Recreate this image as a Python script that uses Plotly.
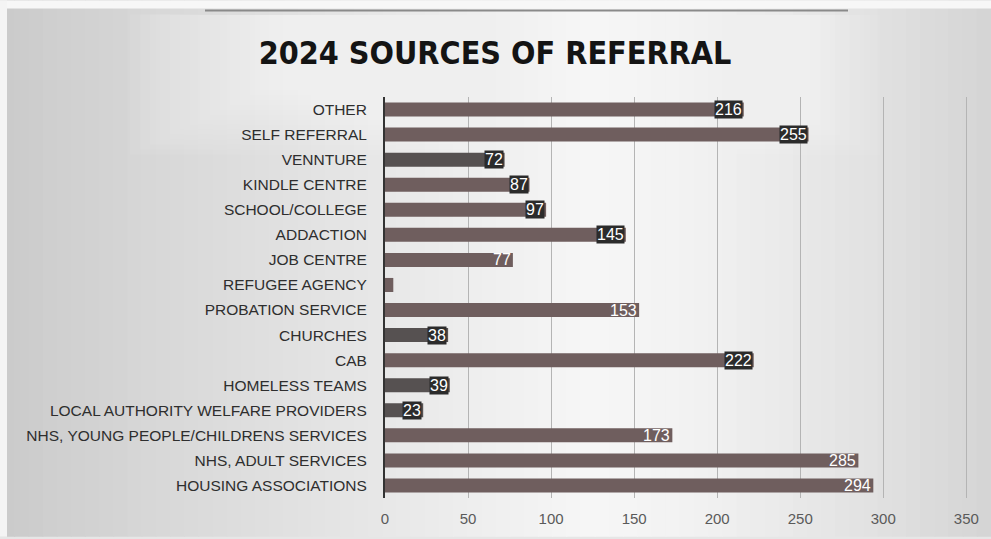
import plotly.graph_objects as go

# Referral sources, listed bottom-to-top as they appear on the axis
categories = [
    "HOUSING ASSOCIATIONS",
    "NHS, ADULT SERVICES",
    "NHS, YOUNG PEOPLE/CHILDRENS SERVICES",
    "LOCAL AUTHORITY WELFARE PROVIDERS",
    "HOMELESS TEAMS",
    "CAB",
    "CHURCHES",
    "PROBATION SERVICE",
    "REFUGEE AGENCY",
    "JOB CENTRE",
    "ADDACTION",
    "SCHOOL/COLLEGE",
    "KINDLE CENTRE",
    "VENNTURE",
    "SELF REFERRAL",
    "OTHER",
]
referrals = [294, 285, 173, 23, 39, 222, 38, 153, 5, 77, 145, 97, 87, 72, 255, 216]
value_labels = ["294", "285", "173", "23", "39", "222", "38", "153", "", "77",
                "145", "97", "87", "72", "255", "216"]
x_ticks = [0, 50, 100, 150, 200, 250, 300, 350]

W, H = 991, 539
ML, MR, MT, MB = 385, 23, 97, 39
PW = W - ML - MR
PH = H - MT - MB

BAR = "#6f5e5e"
DARK_BAR = "#565151"
dark_label = {"23", "39", "38", "72", "87", "97", "145", "216", "255", "222"}
bar_colors = [DARK_BAR if v in {"23", "39", "38", "72"} else BAR for v in value_labels]


def px_x(p):
    """page pixel -> paper x"""
    return (p - ML) / PW


def px_y(p):
    """page pixel (from top) -> paper y"""
    return (H - MB - p) / PH


fig = go.Figure()
fig.add_trace(go.Bar(
    x=referrals,
    y=categories,
    orientation="h",
    marker=dict(color=bar_colors, line=dict(width=0)),
    width=0.56,
    hoverinfo="x+y",
))

# value labels at the end of each bar
annotations = []
for cat, val, lab in zip(categories, referrals, value_labels):
    if not lab:
        continue
    boxed = lab in dark_label
    annotations.append(dict(
        x=val, y=cat, xref="x", yref="y",
        text=lab, showarrow=False, xanchor="right", yanchor="middle",
        font=dict(family="Liberation Sans, Arial, sans-serif", size=16, color="#ffffff"),
        bgcolor="#2b2b2b" if boxed else "rgba(0,0,0,0)",
        borderpad=0, xshift=-1,
    ))

# soft grey page, lighter toward the middle
shapes = []
n = 70
for i in range(n):
    a = i * W / n
    b = (i + 1) * W / n
    xc = (a + b) / 2 / W
    if xc < 0.6:
        t = xc / 0.6
        g = 202 + (246 - 202) * (t ** 0.9)
    else:
        t = (xc - 0.6) / 0.4
        g = 246 - (246 - 212) * (t ** 1.4)
    g = int(round(g))
    shapes.append(dict(
        type="rect", xref="paper", yref="paper", layer="below",
        x0=px_x(a), x1=px_x(b + 1), y0=px_y(H), y1=px_y(0),
        line=dict(width=0), fillcolor=f"rgb({g},{g},{g})",
    ))
# pale glow behind the title, built from stacked translucent layers
for k in range(14):
    pad = 5 * k
    shapes.append(dict(
        type="rect", xref="paper", yref="paper", layer="below",
        x0=px_x(260 - pad * 2), x1=px_x(750 + pad * 2),
        y0=px_y(90 + pad), y1=px_y(14),
        line=dict(width=0), fillcolor="rgba(250,250,250,0.06)",
    ))
# white edge along the top and left border
shapes.append(dict(
    type="rect", xref="paper", yref="paper", layer="below",
    x0=px_x(0), x1=px_x(W), y0=px_y(8), y1=px_y(0),
    line=dict(width=0), fillcolor="#f7f7f7",
))
shapes.append(dict(
    type="rect", xref="paper", yref="paper", layer="below",
    x0=px_x(0), x1=px_x(7), y0=px_y(H), y1=px_y(0),
    line=dict(width=0), fillcolor="#f4f4f4",
))
# faint rule near the top edge
shapes.append(dict(
    type="line", xref="paper", yref="paper", layer="below",
    x0=px_x(205), x1=px_x(848), y0=px_y(10), y1=px_y(10),
    line=dict(color="#8a8a8a", width=2),
))

fig.update_layout(
    width=W, height=H,
    margin=dict(l=ML, r=MR, t=MT, b=MB),
    paper_bgcolor="#e6e6e6",
    plot_bgcolor="rgba(0,0,0,0)",
    title=dict(
        text="<b>2024 SOURCES OF REFERRAL</b>",
        x=px_x(495), xanchor="center", xref="paper",
        y=1 - 53 / H, yanchor="middle", yref="container",
        font=dict(family="Liberation Sans Narrow, DejaVu Sans Condensed, Arial Narrow, sans-serif",
                  size=32, color="#141414"),
    ),
    xaxis=dict(
        range=[0, 351],
        tickvals=x_ticks,
        ticktext=[str(v) for v in x_ticks],
        showgrid=True, gridcolor="#b4b4b4", gridwidth=1,
        zeroline=False, showline=False,
        tickfont=dict(family="Liberation Sans, Arial, sans-serif", size=15, color="#5a5a5a"),
        ticks="", ticklabelstandoff=10,
        fixedrange=True,
    ),
    yaxis=dict(
        categoryorder="array", categoryarray=categories,
        showgrid=False, zeroline=False,
        showline=True, linecolor="#333333", linewidth=2,
        tickfont=dict(family="Liberation Sans, Arial, sans-serif", size=15.5, color="#2e2e2e"),
        ticks="", ticklabelstandoff=13,
        range=[-0.5, len(categories) - 0.5],
        fixedrange=True,
    ),
    annotations=annotations,
    shapes=shapes,
    showlegend=False,
)

fig.write_html("out.html")
